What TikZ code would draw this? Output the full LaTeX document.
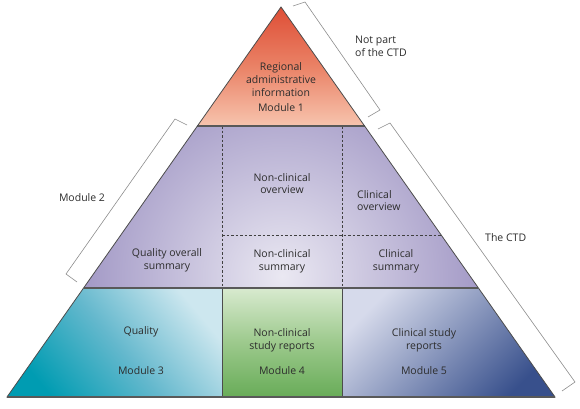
\documentclass[tikz,border=0pt]{standalone}
\usepackage{fontspec}
\setmainfont{Open Sans}
\usepackage{xcolor}
\usepackage{tikz}
\usetikzlibrary{positioning}

\definecolor{modred}{RGB}{222,78,54}
\definecolor{modcoral}{RGB}{234,130,102}
\definecolor{modsalmon}{RGB}{247,196,174}
\definecolor{modpurple}{RGB}{130,117,178}
\definecolor{modlilac}{RGB}{234,232,242}
\definecolor{modteal}{RGB}{0,156,178}
\definecolor{modsky}{RGB}{100,184,205}
\definecolor{modaqua}{RGB}{205,231,239}
\definecolor{modgreen}{RGB}{104,172,88}
\definecolor{modsage}{RGB}{156,201,140}
\definecolor{modmint}{RGB}{216,234,207}
\definecolor{modnavy}{RGB}{56,80,140}
\definecolor{modmist}{RGB}{214,218,235}
\definecolor{txtgray}{RGB}{45,45,45}
\definecolor{brgray}{RGB}{140,140,140}

\begin{document}
\begin{tikzpicture}[
  x=1pt, y=1pt,
  every node/.style={font=\fontsize{10.5}{12.8}\selectfont, text=txtgray, align=center, inner sep=0pt},
  bracket/.style={draw=brgray, line width=0.6pt},
  outline/.style={draw=black!70, line width=0.8pt},
  split/.style={draw=black!65, line width=1.2pt},
  dotsep/.style={draw=black!75, line width=0.7pt, dash pattern=on 2.5pt off 2pt},
]
\useasboundingbox (0,0) rectangle (580,408);

  % Corners
  \coordinate (top) at (281,401);
  \coordinate (m1l) at (197.4,282);
  \coordinate (m1r) at (364.6,282);
  \coordinate (m2l) at (83.6,120);
  \coordinate (m2r) at (478.4,120);
  \coordinate (bl)  at (7,11);
  \coordinate (br)  at (555,11);
  \coordinate (d1t) at (222,282);
  \coordinate (d1m) at (222,120);
  \coordinate (d1b) at (222,11);
  \coordinate (d2t) at (342,282);
  \coordinate (d2m) at (342,120);
  \coordinate (d2b) at (342,11);
  \coordinate (h1)  at (222,173);
  \coordinate (h2)  at (441.2,173);

  % Fills
  \shade[top color=modred, bottom color=modsalmon, middle color=modcoral] (top) -- (m1r) -- (m1l) -- cycle;
  \begin{scope}
    \clip (m1l) -- (m1r) -- (m2r) -- (m2l) -- cycle;
    \shade[inner color=modlilac, outer color=modpurple] (282,132) circle (290);
  \end{scope}
  \shade[top color=modaqua, bottom color=modteal, middle color=modsky, shading angle=-50] (m2l) -- (d1m) -- (d1b) -- (bl) -- cycle;
  \shade[top color=modmint, bottom color=modgreen, middle color=modsage] (d1m) -- (d2m) -- (d2b) -- (d1b) -- cycle;
  \shade[top color=modmist, bottom color=modnavy, shading angle=45] (d2m) -- (m2r) -- (br) -- (d2b) -- cycle;

  % Lines
  \draw[dotsep] (d1t) -- (d1m);
  \draw[dotsep] (d2t) -- (d2m);
  \draw[dotsep] (h1) -- (h2);
  \draw[outline] (d1m) -- (d1b);
  \draw[outline] (d2m) -- (d2b);
  \draw[split] (m1l) -- (m1r);
  \draw[split] (m2l) -- (m2r);
  \draw[outline] (top) -- (br) -- (bl) -- cycle;
  \draw[split] (bl) -- (br);

  % Nodes
  \node (reg)  at (281,328.3) {Regional\\administrative\\information};
  \node (mod1) at (281,300)   {Module 1};
  \node (ncov) at (282,224.5) {Non-clinical\\overview};
  \node[anchor=west, align=left] (clov) at (357,207.5) {Clinical\\overview};
  \node (qos)  at (167,147.5) {Quality overall\\summary};
  \node (ncsu) at (282,147)   {Non-clinical\\summary};
  \node (clsu) at (396,147)   {Clinical\\summary};
  \node (qual) at (141,76)    {Quality};
  \node (mod3) at (141,37)    {Module 3};
  \node (ncsr) at (282,68)    {Non-clinical\\study reports};
  \node (mod4) at (282,37)    {Module 4};
  \node (clsr) at (424,68)    {Clinical study\\reports};
  \node (mod5) at (424,37)    {Module 5};
  \node (mod2) at (82,210)    {Module 2};
  \node[anchor=west, align=left] (notctd) at (355,362) {Not part\\of the CTD};
  \node[anchor=west] (ctd) at (485,170) {The CTD};

  % Brackets
  \coordinate (np1) at (293,402);
  \coordinate (np2) at (305,406);
  \coordinate (np3) at (380,298);
  \coordinate (np4) at (368,291);
  \coordinate (ct1) at (378,279);
  \coordinate (ct2) at (390,285);
  \coordinate (ct3) at (575,26);
  \coordinate (ct4) at (562,17);
  \coordinate (mb1) at (187,283);
  \coordinate (mb2) at (175,289);
  \coordinate (mb3) at (66,134);
  \coordinate (mb4) at (77,126);
  \draw[bracket] (np1) -- (np2) -- (np3) -- (np4);
  \draw[bracket] (ct1) -- (ct2) -- (ct3) -- (ct4);
  \draw[bracket] (mb1) -- (mb2) -- (mb3) -- (mb4);
\end{tikzpicture}
\end{document}
